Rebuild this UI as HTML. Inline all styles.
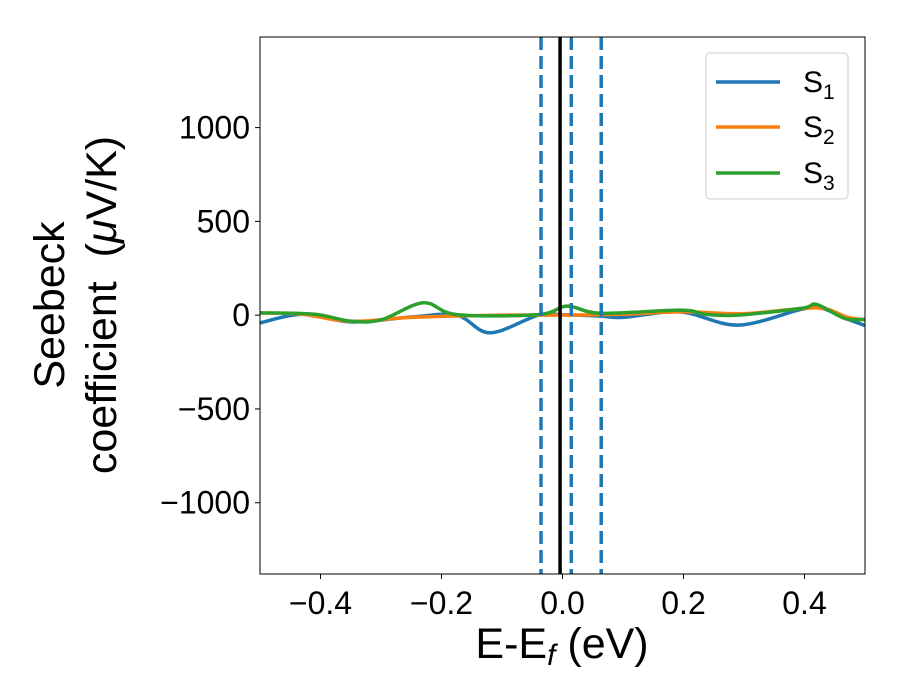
<!DOCTYPE html>
<html><head><meta charset="utf-8"><style>
body{margin:0;background:#fff}
svg{display:block;font-family:"Liberation Sans","DejaVu Sans",sans-serif}
</style></head><body>
<svg id="chart" width="900" height="700">
<g id="plot"></g>
<text x="562" y="658" text-anchor="middle" font-size="43">E-E<tspan font-style="italic" font-size="30" dy="7">f</tspan><tspan dy="-7"> (eV)</tspan></text>
<g transform="translate(64,305) rotate(-90)">
<text x="0" y="0" text-anchor="middle" font-size="43">Seebeck</text>
<text x="0" y="52" text-anchor="middle" font-size="43" xml:space="preserve">coefficient  (<tspan font-style="italic">μ</tspan>V/K)</text>
</g>
<g>
<rect x="706" y="53" width="142" height="146" rx="4" fill="#fff" fill-opacity="0.8" stroke="#ccc"/>
<line x1="716" x2="780" y1="82" y2="82" stroke="#1f77b4" stroke-width="3.5"/>
<text x="803" y="92" font-size="30">S<tspan font-size="21" dy="7">1</tspan></text>
<line x1="716" x2="780" y1="127" y2="127" stroke="#ff7f0e" stroke-width="3.5"/>
<text x="803" y="137" font-size="30">S<tspan font-size="21" dy="7">2</tspan></text>
<line x1="716" x2="780" y1="173" y2="173" stroke="#2ca02c" stroke-width="3.5"/>
<text x="803" y="183" font-size="30">S<tspan font-size="21" dy="7">3</tspan></text>
</g>
</svg>
<script>
const xTicks=[-0.4,-0.2,0.0,0.2,0.4];
const xTickLabels=["\u22120.4","\u22120.2","0.0","0.2","0.4"];
const yTicks=[-1000,-500,0,500,1000];
const yTickLabels=["\u22121000","\u2212500","0","500","1000"];
const s1x=[-0.5,-0.43,-0.35,-0.25,-0.175,-0.12,-0.04,0.0,0.063,0.1,0.195,0.29,0.396,0.43,0.47,0.5];
const s1y=[-41,5,-36,-10,0,-94,0,2,-5,-12,17,-53,32,35,-20,-55];
const s2x=[-0.5,-0.43,-0.35,-0.25,-0.1,0.0,0.1,0.2,0.3,0.42,0.47,0.5];
const s2y=[12,5,-33,-12,0,0,5,18,8,39,-10,-25];
const s3x=[-0.5,-0.41,-0.35,-0.3,-0.23,-0.175,-0.04,0.008,0.063,0.195,0.236,0.29,0.396,0.42,0.467,0.5];
const s3y=[12,5,-32,-25,66,3,3,48,10,27,5,0,37,57,-18,-22];
const vDashed=[-0.0355,0.0145,0.064];
const vSolid=[-0.004];
const L=260,R=865,T=37,B=574,X0=-0.5,X1=0.5,Y0=-1380,Y1=1483;
const sx=v=>L+(v-X0)/(X1-X0)*(R-L);
const sy=v=>B-(v-Y0)/(Y1-Y0)*(B-T);
const NS="http://www.w3.org/2000/svg";
const g=document.getElementById('plot');
function mk(t,a,p){const e=document.createElementNS(NS,t);for(const k in a)e.setAttribute(k,a[k]);(p||g).appendChild(e);return e;}
function path(xs,ys){const P=xs.map((x,i)=>[sx(x),sy(ys[i])]);let d="M"+P[0].join(",");
for(let i=0;i<P.length-1;i++){const p0=P[Math.max(i-1,0)],p1=P[i],p2=P[i+1],p3=P[Math.min(i+2,P.length-1)];
d+=` C${p1[0]+(p2[0]-p0[0])/6},${p1[1]+(p2[1]-p0[1])/6} ${p2[0]-(p3[0]-p1[0])/6},${p2[1]-(p3[1]-p1[1])/6} ${p2[0]},${p2[1]}`;}return d;}
const clip=mk('clipPath',{id:'c'});mk('rect',{x:L,y:T,width:R-L,height:B-T},clip);
const series=[[s1x,s1y,'#1f77b4','series-s1'],[s2x,s2y,'#ff7f0e','series-s2'],[s3x,s3y,'#2ca02c','series-s3']];
series.forEach(s=>{const e=mk('path',{d:path(s[0],s[1]),fill:'none',stroke:s[2],'stroke-width':3.5,'clip-path':'url(#c)'});

});
vDashed.forEach(v=>{const e=mk('line',{x1:sx(v),x2:sx(v),y1:T,y2:B,stroke:'#1f77b4','stroke-width':3.5,'stroke-dasharray':'13,6'});

});
vSolid.forEach(v=>{const e=mk('line',{x1:sx(v),x2:sx(v),y1:T,y2:B,stroke:'#000','stroke-width':3.5});

});
const fr=mk('rect',{x:L,y:T,width:R-L,height:B-T,fill:'none',stroke:'#000','stroke-width':1});


xTicks.forEach((v,i)=>{mk('line',{x1:sx(v),x2:sx(v),y1:B,y2:B+5,stroke:'#000'});
const t=mk('text',{x:sx(v),y:B+40,'text-anchor':'middle','font-size':32});t.textContent=xTickLabels[i];

});
yTicks.forEach((v,i)=>{mk('line',{x1:L-5,x2:L,y1:sy(v),y2:sy(v),stroke:'#000'});
const t=mk('text',{x:L-10,y:sy(v)+11,'text-anchor':'end','font-size':32});t.textContent=yTickLabels[i];

});
</script>
</body></html>
